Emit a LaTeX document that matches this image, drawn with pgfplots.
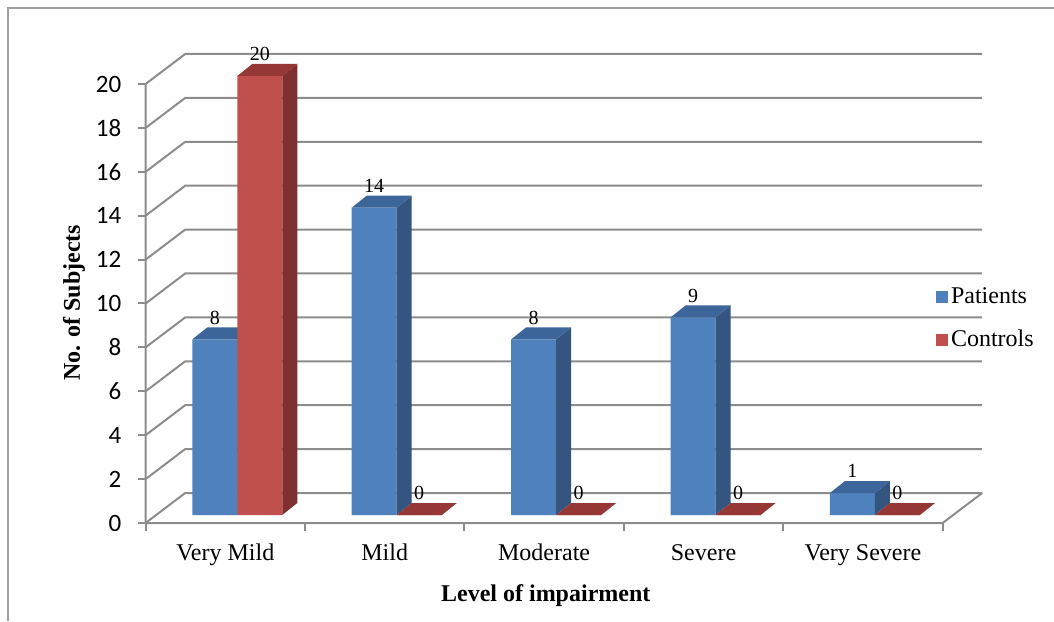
\documentclass[border=0pt]{standalone}
\usepackage{pgfplots}
\usepackage{pgfplotstable}
\usepackage{fontspec}
\pgfplotsset{compat=1.18}
\setmainfont{Liberation Serif}
\newfontfamily\carlito{Carlito}

\definecolor{blueF}{HTML}{4F81BD}
\definecolor{blueS}{HTML}{33557F}
\definecolor{blueT}{HTML}{3C6699}
\definecolor{redF}{HTML}{C0504D}
\definecolor{redS}{HTML}{7D302E}
\definecolor{redT}{HTML}{943735}
\definecolor{gridc}{HTML}{8C8C8C}
\definecolor{framec}{HTML}{A0A0A0}

\pgfdeclareplotmark{nothing}{}

\pgfplotstableread{
x pat con
0 8  20
1 14 0
2 8  0
3 9  0
4 1  0
}\datatable

% top and side faces of the 3d bars, drawn relative to each data point
\pgfplotsset{
  faces/.style n args={3}{
    scatter, only marks, mark=nothing, forget plot,
    visualization depends on={rawy \as \h},
    scatter/@pre marker code/.code={%
      \pgfmathsetmacro\hh{\h*10.975}%
      \pgfscope
      \pgfpathmoveto{\pgfpoint{#1+11.25pt}{0pt}}%
      \pgfpathlineto{\pgfpoint{#1+18.75pt}{6pt}}%
      \pgfpathlineto{\pgfpoint{#1+18.75pt}{6pt-\hh pt}}%
      \pgfpathlineto{\pgfpoint{#1+11.25pt}{-\hh pt}}%
      \pgfpathclose
      \pgfsetfillcolor{#2}\pgfusepath{fill}%
      \pgfpathmoveto{\pgfpoint{#1-11.25pt}{0pt}}%
      \pgfpathlineto{\pgfpoint{#1+11.25pt}{0pt}}%
      \pgfpathlineto{\pgfpoint{#1+18.75pt}{6pt}}%
      \pgfpathlineto{\pgfpoint{#1-3.75pt}{6pt}}%
      \pgfpathclose
      \pgfsetfillcolor{#3}\pgfusepath{fill}%
      \endpgfscope
    },
    scatter/@post marker code/.code={},
  },
  bars/.style 2 args={
    ybar, bar width=22.5pt, bar shift=#1, fill=#2, draw=none,
    nodes near coords,
    every node near coord/.append style={font=\fontsize{10}{12}\selectfont, anchor=south, xshift=#1, yshift=4pt},
  },
}

\begin{document}
\begin{tikzpicture}
\path[use as bounding box] (0,0) rectangle (527pt,310.5pt);
\draw[framec, line width=0.6pt] (4pt,0) -- (4pt,306.5pt) -- (527pt,306.5pt);

\begin{axis}[
  at={(78.8pt,53pt)}, anchor=south west,
  x=79.7pt, y=10.975pt,
  xmin=-0.5, xmax=4.5, ymin=0, ymax=20,
  clip=false, clip marker paths=true,
  axis line style={draw=none},
  major tick style={draw=none},
  /pgf/number format/assume math mode=true,
  ytick={0,2,...,20},
  yticklabel style={font=\fontsize{12.5}{14}\carlito, anchor=east, xshift=-14.6pt, yshift=-4pt},
  xtick={0,...,4},
  xticklabels={Very Mild, Mild, Moderate, Severe, Very Severe},
  xticklabel style={font=\fontsize{12}{14}\selectfont, anchor=base, xshift=-6pt, yshift=-22.5pt},
  xlabel={\textbf{Level of impairment}},
  xlabel style={font=\fontsize{12}{14}\selectfont, at={(axis description cs:0.487,-0.196)}, anchor=base},
  ylabel={\textbf{No. of Subjects}},
  ylabel style={font=\fontsize{12}{14}\selectfont, at={(axis description cs:-0.105,0.483)}, anchor=center},
  legend style={at={(0.9767,0.4476)}, anchor=west, draw=none, fill=none,
    font=\fontsize{12}{14}\selectfont, row sep=9pt, inner sep=0pt,
    nodes={inner sep=1.3pt}},
  legend cell align=left,
  legend image code/.code={\fill[#1] (canvas cs:x=0pt,y=-3pt) rectangle (canvas cs:x=6pt,y=3pt);},
]
% walls and grid
\pgfplotsinvokeforeach{0,2,...,20}{
  \draw[gridc, line width=1pt] ([xshift=-6pt,yshift=-4pt]axis cs:-0.5,#1)
    -- ([xshift=13.8pt,yshift=11pt]axis cs:-0.5,#1) -- ([xshift=13.8pt,yshift=11pt]axis cs:4.5,#1);
  \draw[gridc, line width=1pt] ([xshift=-6pt,yshift=-4pt]axis cs:-0.5,#1) -- ([xshift=-10pt,yshift=-4pt]axis cs:-0.5,#1);
}
\draw[gridc, line width=1pt] ([xshift=-6pt,yshift=-4pt]axis cs:-0.5,20) -- ([xshift=-6pt,yshift=-4pt]axis cs:-0.5,0)
  -- ([xshift=-6pt,yshift=-4pt]axis cs:4.5,0) -- ([xshift=13.8pt,yshift=11pt]axis cs:4.5,0);
\pgfplotsinvokeforeach{-0.5,0.5,1.5,2.5,3.5,4.5}{
  \draw[gridc, line width=1pt] ([xshift=-6pt,yshift=-4pt]axis cs:#1,0) -- ([xshift=-6pt,yshift=-8pt]axis cs:#1,0);
}

\addplot[bars={-11.25pt}{blueF}] table[x=x, y=pat] {\datatable};
\addlegendentry{Patients}
\addplot[faces={-11.25pt}{blueS}{blueT}] table[x=x, y=pat] {\datatable};
\addplot[bars={11.25pt}{redF}] table[x=x, y=con] {\datatable};
\addlegendentry{Controls}
\addplot[faces={11.25pt}{redS}{redT}] table[x=x, y=con] {\datatable};
\end{axis}
\end{tikzpicture}
\end{document}
